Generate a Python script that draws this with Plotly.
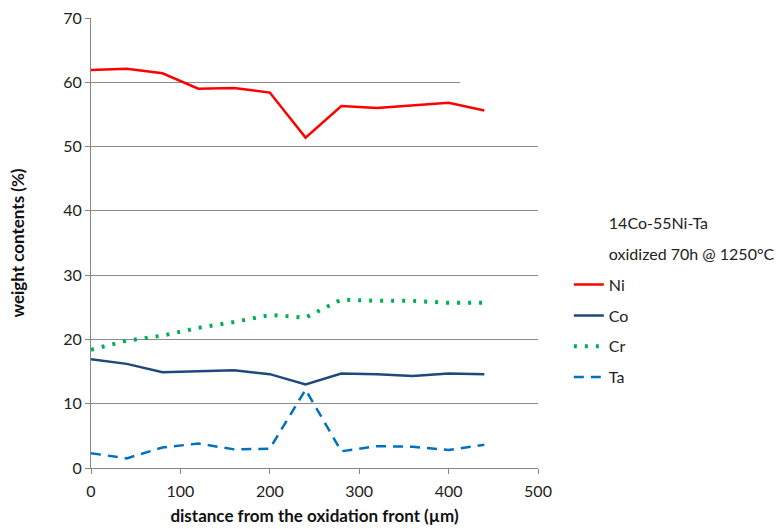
import plotly.graph_objects as go

distance = [0, 40, 80, 120, 160, 200, 240, 280, 320, 360, 400, 440]
ni = [61.9, 62.1, 61.4, 59.0, 59.1, 58.4, 51.4, 56.3, 56.0, 56.4, 56.8, 55.6]
co = [16.9, 16.2, 14.9, 15.1, 15.2, 14.6, 13.0, 14.7, 14.6, 14.3, 14.7, 14.6]
cr = [18.4, 19.8, 20.6, 21.8, 22.7, 23.8, 23.4, 26.2, 26.0, 26.0, 25.7, 25.7]
ta = [2.3, 1.5, 3.2, 3.8, 2.9, 3.0, 12.2, 2.6, 3.4, 3.3, 2.8, 3.6]

legend_notes = ["14Co-55Ni-Ta", "oxidized 70h @ 1250°C"]
x_ticks = [0, 100, 200, 300, 400, 500]
y_ticks = [0, 10, 20, 30, 40, 50, 60, 70]

FONT = "Lato, 'Open Sans', sans-serif"
fig = go.Figure()

for i, note in enumerate(legend_notes):
    fig.add_trace(go.Scatter(x=[None], y=[None], mode="lines", name=note,
                             line=dict(width=0, color="rgba(0,0,0,0)"),
                             legendgroup=f"n{i}", hoverinfo="skip"))

series = [
    ("Ni", ni, dict(color="#ff0000", width=2.5)),
    ("Co", co, dict(color="#1f497d", width=2.5)),
    ("Cr", cr, dict(color="#00b050", width=4, dash="3px,8px")),
    ("Ta", ta, dict(color="#0070c0", width=2.5, dash="10px,7px")),
]
for name, vals, line in series:
    fig.add_trace(go.Scatter(x=distance, y=vals, mode="lines", name=name,
                             line=line, legendgroup=name))

# the 60 gridline stops short in the original
fig.add_shape(type="line", xref="x", yref="y", x0=413, x1=500, y0=60, y1=60,
              line=dict(color="white", width=3), layer="above")

fig.update_layout(
    width=783, height=529,
    margin=dict(l=91, r=245, t=18, b=61, autoexpand=False),
    paper_bgcolor="white", plot_bgcolor="white",
    font=dict(family=FONT, size=16, color="#222"),
    showlegend=True,
    legend=dict(x=1.069, y=0.582, xanchor="left", yanchor="top",
                tracegroupgap=7, font=dict(size=16, color="#222"),
                bgcolor="rgba(0,0,0,0)"),
    xaxis=dict(range=[0, 500], tickvals=x_ticks, showgrid=False,
               showline=True, linecolor="#868686", linewidth=1,
               ticks="outside", ticklen=5, tickcolor="#868686",
               zeroline=False, tickfont=dict(size=16), ticklabelstandoff=4,
               title=dict(text="<b>distance from the oxidation front (µm)</b>",
                          font=dict(size=17, color="#111"), standoff=10)),
    yaxis=dict(range=[0, 70], tickvals=y_ticks, showgrid=True,
               gridcolor="#8c8c8c", gridwidth=1,
               showline=True, linecolor="#868686", linewidth=1,
               ticks="outside", ticklen=5, tickcolor="#868686",
               zeroline=False, tickfont=dict(size=16),
               title=dict(text="<b>weight contents (%)</b>",
                          font=dict(size=17, color="#111"), standoff=34)),
)

fig.write_html("out.html", config={"displayModeBar": False})
with open("out.html", "r", encoding="utf-8") as f:
    html = f.read()
html = html.replace("<body>", '<body style="margin:0;padding:0;">', 1)
with open("out.html", "w", encoding="utf-8") as f:
    f.write(html)
